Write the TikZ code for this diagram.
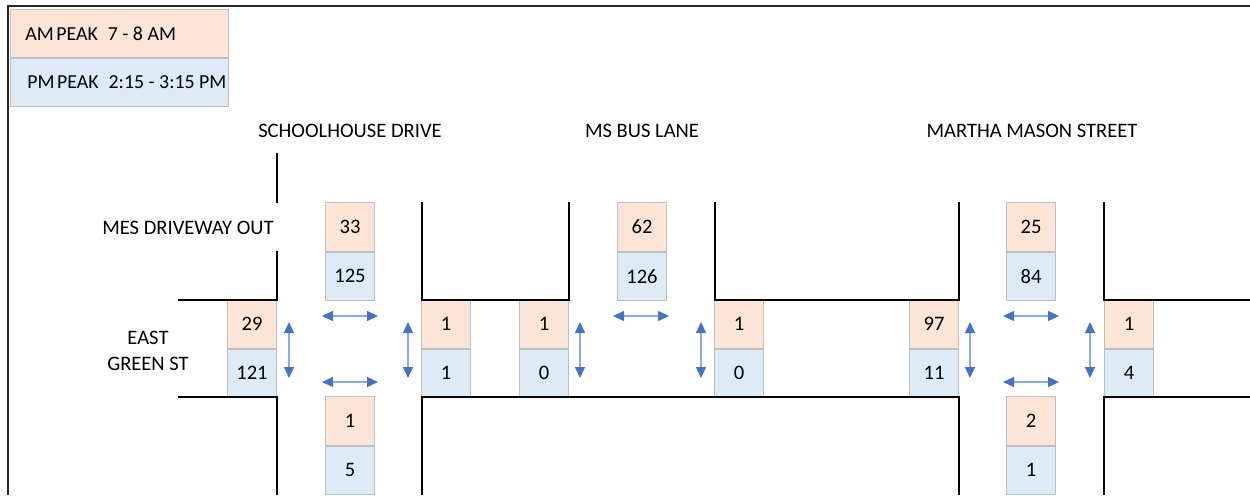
\documentclass[tikz,border=0pt]{standalone}
\usepackage{fontspec}
\setmainfont{Carlito}
\usetikzlibrary{arrows.meta,positioning}
\definecolor{amfill}{HTML}{FCE4D6}
\definecolor{pmfill}{HTML}{DDEBF7}
\definecolor{boxline}{HTML}{BFBFBF}
\definecolor{arrowblue}{HTML}{4472C4}
\definecolor{arrowshaft}{HTML}{8FAADC}
\newcommand{\keytext}[2]{\makebox[4.36cm][l]{\hspace*{#1}#2}}

\begin{document}
\begin{tikzpicture}[x=0.02cm,y=-0.02cm,node distance=0pt,
  txt/.style={font=\fontsize{11.7}{15}\selectfont},
  am/.style={txt,draw=boxline,fill=amfill,inner sep=0pt,
    minimum width=0.98cm,minimum height=0.97cm},
  pm/.style={am,fill=pmfill},
  key/.style={am,minimum width=4.36cm,minimum height=0.96cm,
    font=\fontsize{11.3}{15}\selectfont},
  road/.style={line width=0.9pt},
  flow/.style={draw=arrowshaft,line width=0.7pt,
    {Triangle[color=arrowblue,length=0.22cm,width=0.2cm]}-{Triangle[color=arrowblue,length=0.22cm,width=0.2cm]}}]
  \useasboundingbox (0,0) rectangle (1250,495);

  % legend
  \draw[line width=1.5pt,black!85] (8,495) -- (8,6) -- (1250,6);
  \node[key,anchor=north west] (amkey) at (10,9)
    {\keytext{0.3cm}{AM\hspace{0.05cm}PEAK\hspace{0.2cm}7 - 8 AM}};
  \node[key,fill=pmfill,below=of amkey] (pmkey)
    {\raisebox{-0.05cm}{\keytext{0.34cm}{PM\hspace{0.05cm}PEAK\hspace{0.2cm}2:15 - 3:15 PM}}};

  % street names
  \node[txt] (school) at (350,131) {SCHOOLHOUSE DRIVE};
  \node[txt] (bus)    at (642,131) {MS BUS LANE};
  \node[txt] (martha) at (1032,131) {MARTHA MASON STREET};
  \node[txt] (mes)    at (188,228) {MES DRIVEWAY OUT};
  \node[txt,align=center] (green) at (148,351) {EAST\\GREEN ST};

  % counts, schoolhouse drive
  \node[am] (sn) at (350,227) {33};
  \node[pm] (snp) [below=of sn] {125};
  \node[am] (sw) at (252,324) {29};
  \node[pm] (swp) [below=of sw] {121};
  \node[am] (se) at (446,324) {1};
  \node[pm] (sep) [below=of se] {1};
  \node[am] (ss) at (350,421) {1};
  \node[pm] (ssp) [below=of ss] {5};

  % counts, ms bus lane
  \node[am] (bn) at (642,227) {62};
  \node[pm] (bnp) [below=of bn] {126};
  \node[am] (bw) at (544,324) {1};
  \node[pm] (bwp) [below=of bw] {0};
  \node[am] (be) at (739,324) {1};
  \node[pm] (bep) [below=of be] {0};

  % counts, martha mason street
  \node[am] (mn) at (1031,227) {25};
  \node[pm] (mnp) [below=of mn] {84};
  \node[am] (mw) at (934,324) {97};
  \node[pm] (mwp) [below=of mw] {11};
  \node[am] (me) at (1129,324) {1};
  \node[pm] (mep) [below=of me] {4};
  \node[am] (ms) at (1031,421) {2};
  \node[pm] (msp) [below=of ms] {1};

  % kerbs
  \draw[road] (277,153) -- (277,203) (277,251) -- (277,300) -- (178,300);
  \draw[road] (178,397) -- (277,397) -- (277,495);
  \draw[road] (422,202) -- (422,300) -- (569,300) -- (569,202);
  \draw[road] (715,202) -- (715,300) -- (959,300) -- (959,202);
  \draw[road] (1104,202) -- (1104,300) -- (1250,300);
  \draw[road] (422,495) -- (422,397) -- (959,397) -- (959,495);
  \draw[road] (1104,495) -- (1104,397) -- (1250,397);

  % crossings
  \coordinate (x1) at (350,349);
  \coordinate (x2) at (642,349);
  \coordinate (x3) at (1031,349);
  \draw[flow,shift={(x1)}] (-28,-33) -- (28,-33);
  \draw[flow,shift={(x1)}] (-28,33) -- (28,33);
  \draw[flow,shift={(x1)}] (-61,-27) -- (-61,29);
  \draw[flow,shift={(x1)}] (58,-27) -- (58,29);
  \draw[flow,shift={(x2)}] (-29,-33) -- (27,-33);
  \draw[flow,shift={(x2)}] (-62,-27) -- (-62,29);
  \draw[flow,shift={(x2)}] (59,-27) -- (59,29);
  \draw[flow,shift={(x3)}] (-28,-33) -- (28,-33);
  \draw[flow,shift={(x3)}] (-28,33) -- (28,33);
  \draw[flow,shift={(x3)}] (-61,-27) -- (-61,29);
  \draw[flow,shift={(x3)}] (59,-27) -- (59,29);
\end{tikzpicture}
\end{document}
